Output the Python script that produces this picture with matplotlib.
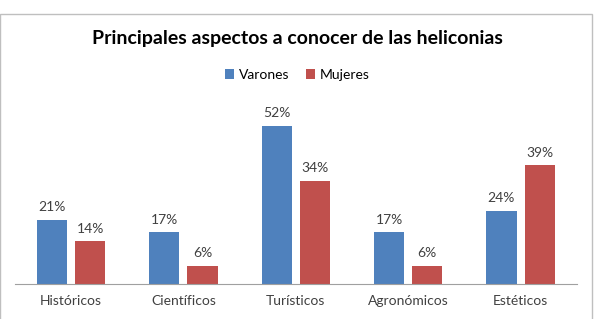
import numpy as np
import matplotlib.pyplot as plt
from matplotlib.patches import Rectangle

plt.rcParams['font.family'] = ['Lato', 'DejaVu Sans']

categorias = ["Históricos", "Científicos", "Turísticos", "Agronómicos", "Estéticos"]
varones = [21, 17, 52, 17, 24]
mujeres = [14, 6, 34, 6, 39]

fig = plt.figure(figsize=(5.94, 3.19), dpi=100)
ax = fig.add_axes([0.025, 0.11, 0.946, 0.572])

x = np.arange(len(categorias))
w = 0.27
b1 = ax.bar(x - w/2 - 0.035, varones, w, color="#4F81BD", label="Varones")
b2 = ax.bar(x + w/2 + 0.035, mujeres, w, color="#C0504D", label="Mujeres")

for bars, vals in [(b1, varones), (b2, mujeres)]:
    for r, v in zip(bars, vals):
        ax.text(r.get_x() + r.get_width()/2, v + 2.2, f"{v}%", ha="center", va="bottom",
                fontsize=10, color="#404040")

ax.set_xlim(-0.5, 4.5)
ax.set_ylim(0, 60)
ax.set_yticks([])
ax.set_xticks(x)
ax.set_xticklabels(categorias, fontsize=10, color="#404040")
ax.tick_params(axis="x", length=0, pad=8)
for s in ["top", "right", "left"]:
    ax.spines[s].set_visible(False)
ax.spines["bottom"].set_color("#A0A0A0")

fig.text(0.5, 0.88, "Principales aspectos a conocer de las heliconias", ha="center", va="center",
         fontsize=14, fontweight="bold")
fig.legend(loc="center", bbox_to_anchor=(0.5, 0.765), ncol=2, frameon=False, fontsize=10,
           handlelength=0.7, handleheight=0.7, handletextpad=0.3, columnspacing=1.2)

fig.add_artist(Rectangle((0.0, -0.05), 0.997, 1.006, transform=fig.transFigure, fill=False,
                         edgecolor="#BFBFBF", linewidth=1))

fig.savefig("out.png", dpi=100)
